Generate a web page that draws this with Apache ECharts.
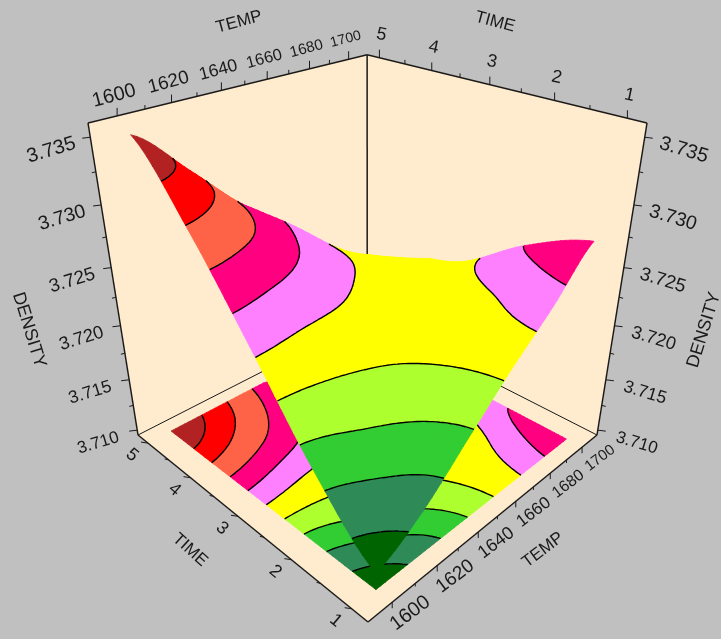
<!DOCTYPE html>
<html>
<head>
<meta charset="utf-8">
<script src="https://cdn.jsdelivr.net/npm/echarts@6/dist/echarts.min.js"></script>
<style>
  html, body { margin: 0; padding: 0; background: #c0c0c0; }
  #chart { width: 721px; height: 639px; }
</style>
</head>
<body>
<div id="chart"></div>
<script>
// // DATA
const temp_ticks = [1600, 1620, 1640, 1660, 1680, 1700];
const time_ticks = [1, 2, 3, 4, 5];
const density_ticks = [3.710, 3.715, 3.720, 3.725, 3.730, 3.735];
const contour_levels = [3.7125, 3.715, 3.7175, 3.72, 3.7225, 3.725, 3.7275, 3.73, 3.7325];
const band_colors = ["#006400", "#2e8b57", "#32cd32", "#adff2f", "#ffff00", "#ff80ff", "#ff0080", "#ff6347", "#ff0000", "#b22222"];

// one row per time, one column per temp
const density_time1 = [3.7110, 3.7134, 3.7170, 3.7206, 3.7238, 3.7274];
const density_time2 = [3.7162, 3.7181, 3.7197, 3.7213, 3.7222, 3.7250];
const density_time3 = [3.7231, 3.7225, 3.7222, 3.7215, 3.7212, 3.7215];
const density_time4 = [3.7297, 3.7280, 3.7254, 3.7232, 3.7212, 3.7201];
const density_time5 = [3.7350, 3.7312, 3.7272, 3.7244, 3.7206, 3.7190];

// the surface stops short of the back corner: last time reached at each temp
const rim_temps = [1600, 1645, 1668, 1686, 1700];
const rim_times = [5, 5, 4.49, 4.34, 3.6];
const density_rows = [density_time1, density_time2, density_time3, density_time4, density_time5];

// // BOX GEOMETRY (pixels of the box corners and its data range)
const temp_range = [1590, 1710];
const time_range = [0.75, 5.25];
const density_range = [3.7095, 3.736];
const front_corner = [368, 622], right_corner = [597, 435], left_corner = [138, 435];
const top_left_corner = [88, 123], top_right_corner = [647, 123];
const persp_uv = 0.3, persp_w = -0.2326; // perspective weights

const vec_u = [0, 1].map((i) => right_corner[i] * (1 + persp_uv) - front_corner[i]);
const vec_v = [0, 1].map((i) => left_corner[i] * (1 + persp_uv) - front_corner[i]);
const vec_w = [0, 1].map((i) => top_left_corner[i] * (1 + persp_uv + persp_w) - left_corner[i] * (1 + persp_uv));

function project(temp, time, density) {
  const u = (temp - temp_range[0]) / (temp_range[1] - temp_range[0]);
  const v = (time - time_range[0]) / (time_range[1] - time_range[0]);
  const w = (density - density_range[0]) / (density_range[1] - density_range[0]);
  const d = 1 + persp_uv * (u + v) + persp_w * w;
  return [0, 1].map((i) => (front_corner[i] + u * vec_u[i] + v * vec_v[i] + w * vec_w[i]) / d);
}

// // SURFACE SAMPLING
function spline(p0, p1, p2, p3, t) {
  return p1 + 0.5 * t * (p2 - p0 + t * (2 * p0 - 5 * p1 + 4 * p2 - p3 + t * (3 * (p1 - p2) + p3 - p0)));
}

function densityAt(temp, time) {
  const tx = (temp - temp_ticks[0]) / (temp_ticks[1] - temp_ticks[0]);
  const ty = (time - time_ticks[0]) / (time_ticks[1] - time_ticks[0]);
  const ix = Math.min(Math.floor(tx), temp_ticks.length - 2);
  const iy = Math.min(Math.floor(ty), time_ticks.length - 2);
  const cell = (r, c) => {
    const row = density_rows[Math.max(0, Math.min(density_rows.length - 1, r))];
    return row[Math.max(0, Math.min(row.length - 1, c))];
  };
  const along = (r) => spline(cell(r, ix - 1), cell(r, ix), cell(r, ix + 1), cell(r, ix + 2), tx - ix);
  return spline(along(iy - 1), along(iy), along(iy + 1), along(iy + 2), ty - iy);
}

function rimTime(temp) {
  let k = 0;
  while (k < rim_temps.length - 2 && temp > rim_temps[k + 1]) k++;
  const t = (temp - rim_temps[k]) / (rim_temps[k + 1] - rim_temps[k]);
  return rim_times[k] + t * (rim_times[k + 1] - rim_times[k]);
}

const temp_steps = 50, time_steps = 40;
function meshTriangles() {
  const out = [];
  const corner = (i, j) => {
    const temp = temp_ticks[0] + (temp_ticks[temp_ticks.length - 1] - temp_ticks[0]) * i / temp_steps;
    const time = time_ticks[0] + (rimTime(temp) - time_ticks[0]) * j / time_steps;
    return [temp, time, densityAt(temp, time)];
  };
  for (let i = 0; i < temp_steps; i++) {
    for (let j = 0; j < time_steps; j++) {
      const a = corner(i, j), b = corner(i + 1, j), c = corner(i + 1, j + 1), d = corner(i, j + 1);
      out.push([a, b, c], [a, c, d]);
    }
  }
  return out;
}
const triangles = meshTriangles();

function clip(poly, level, keep_above) {
  const out = [];
  poly.forEach((p, i) => {
    const q = poly[(i + 1) % poly.length];
    const p_in = keep_above ? p[2] >= level : p[2] < level;
    const q_in = keep_above ? q[2] >= level : q[2] < level;
    if (p_in) out.push(p);
    if (p_in !== q_in) {
      const t = (level - p[2]) / (q[2] - p[2]);
      out.push([p[0] + t * (q[0] - p[0]), p[1] + t * (q[1] - p[1]), level]);
    }
  });
  return out;
}

function pathOf(points, close) {
  return "M" + points.map((p) => p[0].toFixed(1) + " " + p[1].toFixed(1)).join("L") + (close ? "Z" : "");
}

function bandPath(band, on_floor) {
  let path = "";
  triangles.forEach((tri) => {
    let poly = tri;
    if (band > 0) poly = clip(poly, contour_levels[band - 1], true);
    if (poly.length && band < contour_levels.length) poly = clip(poly, contour_levels[band], false);
    if (poly.length < 3) return;
    path += pathOf(poly.map((p) => project(p[0], p[1], on_floor ? density_range[0] : p[2])), true);
  });
  return path;
}

function contourPath(level, on_floor) {
  let path = "";
  triangles.forEach((tri) => {
    const crossing = [];
    tri.forEach((p, i) => {
      const q = tri[(i + 1) % 3];
      if ((p[2] >= level) !== (q[2] >= level)) {
        const t = (level - p[2]) / (q[2] - p[2]);
        crossing.push([p[0] + t * (q[0] - p[0]), p[1] + t * (q[1] - p[1])]);
      }
    });
    if (crossing.length === 2) {
      path += pathOf(crossing.map((p) => project(p[0], p[1], on_floor ? density_range[0] : level)), false);
    }
  });
  return path;
}

// // BOX, TICKS, LABELS
const wall_fill = "#ffebcd", ink = "#1a1a1a";
const t0 = temp_range[0], t1 = temp_range[1], h0 = time_range[0], h1 = time_range[1], d0 = density_range[0], d1 = density_range[1];

function wallShapes() {
  const walls = [
    [project(t0, h1, d0), project(t1, h1, d0), project(t1, h1, d1), project(t0, h1, d1)],
    [project(t1, h0, d0), project(t1, h1, d0), project(t1, h1, d1), project(t1, h0, d1)],
    [project(t0, h0, d0), project(t1, h0, d0), project(t1, h1, d0), project(t0, h1, d0)]
  ];
  return walls.map((w) => ({ type: "polygon", shape: { points: w }, style: { fill: wall_fill, stroke: wall_fill, lineWidth: 1 } }));
}

function lineShape(a, b, width) {
  return { type: "line", shape: { x1: a[0], y1: a[1], x2: b[0], y2: b[1] }, style: { stroke: ink, lineWidth: width || 1.5 } };
}

function backLines() {
  return [
    lineShape(project(t0, h1, d0), project(t1, h1, d0), 1),
    lineShape(project(t1, h0, d0), project(t1, h1, d0), 1),
    lineShape(project(t1, h1, d0), project(t1, h1, d1))
  ];
}

function frontLines() {
  return [
    lineShape(project(t0, h1, d1), project(t1, h1, d1)),
    lineShape(project(t1, h1, d1), project(t1, h0, d1)),
    lineShape(project(t0, h1, d1), project(t0, h1, d0)),
    lineShape(project(t1, h0, d1), project(t1, h0, d0)),
    lineShape(project(t0, h1, d0), project(t0, h0, d0)),
    lineShape(project(t0, h0, d0), project(t1, h0, d0))
  ];
}

function tickShapes() {
  const out = [];
  const add = (at, dx, dy) => out.push(lineShape(at, [at[0] + dx, at[1] + dy], 1));
  for (let t = 1600; t <= 1700; t += 10) {
    const major = t % 20 === 0;
    add(project(t, h1, d1), 0, major ? -8 : -4);
    add(project(t, h0, d0), 0, major ? 6 : 3);
  }
  for (let h = 1; h <= 5; h += 0.5) {
    const major = h % 1 === 0;
    add(project(t1, h, d1), 0, major ? -8 : -4);
    add(project(t0, h, d0), major ? -7 : -4, -1);
  }
  for (let k = 0; k <= 10; k++) {
    const density = density_ticks[0] + k * 0.0025;
    const len = k % 2 === 0 ? 8 : 4;
    add(project(t0, h1, density), -len, 1);
    add(project(t1, h0, density), len, 1);
  }
  return out;
}

const rad = Math.PI / 180;
function textShape(text, at, dx, dy, rotate, size) {
  return {
    type: "text", x: at[0] + dx, y: at[1] + dy, rotation: rotate * rad,
    style: { text: text, font: size + 'px "Liberation Sans", sans-serif', fill: ink, align: "center", verticalAlign: "middle" }
  };
}

function labelShapes() {
  const out = [];
  // labels shrink with depth, the box is drawn in perspective
  temp_ticks.forEach((t) => {
    const k = (t - temp_ticks[0]) / 100;
    out.push(textShape(String(t), project(t, h1, d1), -3, -20, 15, 20 - 6 * k));
    out.push(textShape(String(t), project(t, h0, d0), 18, 11, 37, 20 - 5 * k));
  });
  time_ticks.forEach((h) => {
    out.push(textShape(String(h), project(t1, h, d1), 2, -23, -12, 18));
    out.push(textShape(String(h), project(t0, h, d0), -16, 12, -40, 18));
  });
  density_ticks.forEach((d) => {
    const text = d.toFixed(3);
    const size = 17 + 3 * (d - density_ticks[0]) / 0.025;
    out.push(textShape(text, project(t0, h1, d), -39, 13, 17, size));
    out.push(textShape(text, project(t1, h0, d), 39, 13, -17, size));
  });
  out.push(textShape("TEMP", [239, 22], 0, 0, 15, 17));
  out.push(textShape("TIME", [495, 22], 0, 0, -15, 17));
  out.push(textShape("TIME", [190, 550], 0, 0, -42, 17));
  out.push(textShape("TEMP", [543, 550], 0, 0, 37, 17));
  out.push(textShape("DENSITY", [29, 330], 0, 0, -73, 18));
  out.push(textShape("DENSITY", [704, 330], 0, 0, 73, 18));
  return out;
}

function groupSeries(z, children) {
  return {
    type: "custom", coordinateSystem: "none", silent: true, z: z, animation: false, clip: false,
    data: [0],
    renderItem: () => ({ type: "group", children: children })
  };
}

function bandShapes(on_floor) {
  const out = band_colors.map((color, band) => ({
    type: "path", shape: { pathData: bandPath(band, on_floor) },
    style: { fill: color, stroke: color, lineWidth: 0.8 }
  }));
  contour_levels.forEach((level) => out.push({
    type: "path", shape: { pathData: contourPath(level, on_floor) },
    style: { fill: null, stroke: "#000", lineWidth: 1.4 }
  }));
  return out;
}

const chart = echarts.init(document.getElementById("chart"), null, { renderer: "canvas" });
chart.setOption({
  backgroundColor: "#c0c0c0",
  animation: false,
  series: [
    groupSeries(1, wallShapes().concat(backLines())),
    groupSeries(2, bandShapes(true)),
    groupSeries(3, bandShapes(false)),
    groupSeries(4, frontLines().concat(tickShapes(), labelShapes()))
  ]
});
</script>
</body>
</html>
